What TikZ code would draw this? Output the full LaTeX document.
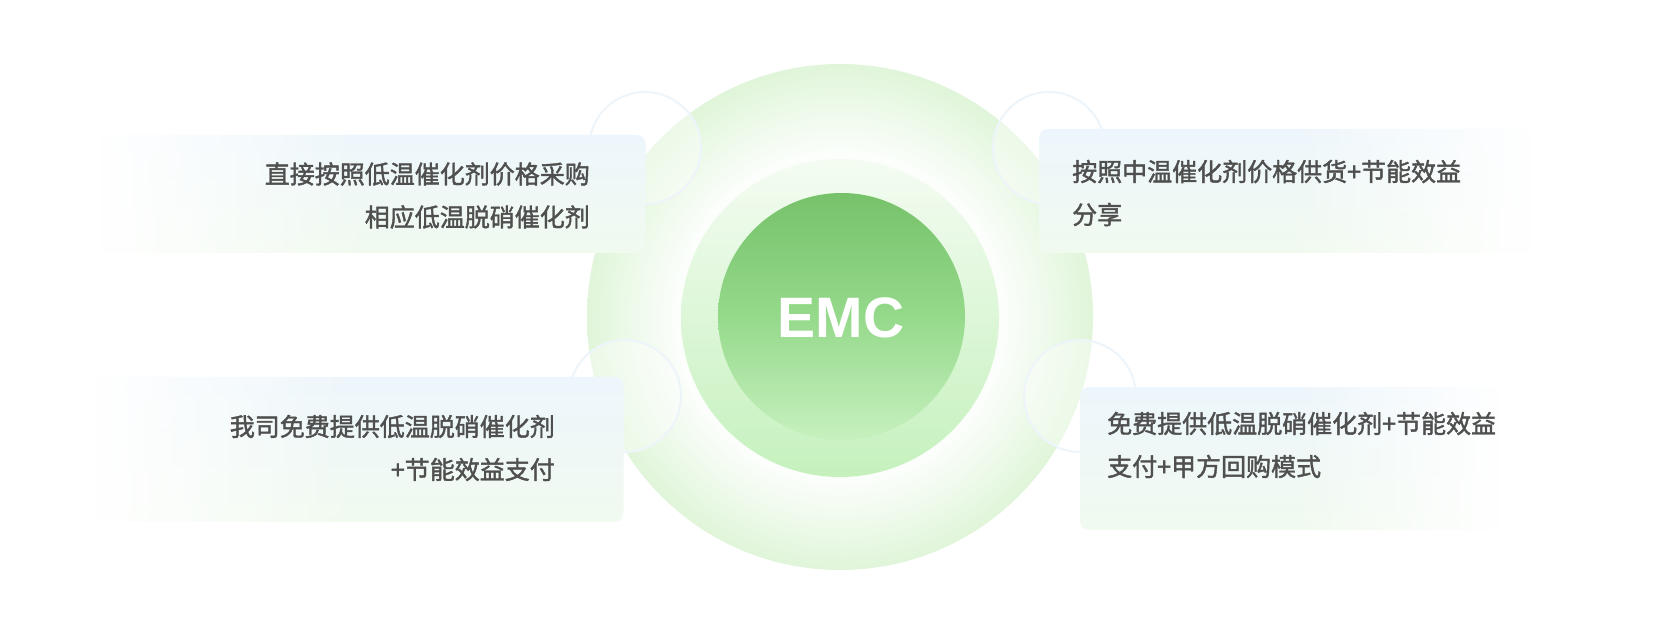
\documentclass[tikz,border=0pt]{standalone}
\usepackage{fontspec}
\setmainfont{Liberation Sans}
\newfontfamily\cjk[FakeBold=1.6]{Noto Sans CJK SC}
\newfontfamily\emcfont{Liberation Sans}
\usetikzlibrary{fadings}
\definecolor{glow}{HTML}{E0F5D9}
\definecolor{glowmid}{HTML}{EEFAEB}
\definecolor{midtop}{HTML}{F4FCF2}
\definecolor{midbot}{HTML}{C5F1BD}
\definecolor{intop}{HTML}{76C26A}
\definecolor{inmid}{HTML}{95D98B}
\definecolor{inbot}{HTML}{C7F1BF}
\definecolor{boxtop}{HTML}{EDF6FC}
\definecolor{boxbot}{HTML}{F1FAEF}
\definecolor{ringc}{HTML}{EDF5FB}
\definecolor{txt}{HTML}{4F4F4F}
\pgfdeclareradialshading{outerglow}{\pgfpointorigin}{color(0bp)=(white); color(15bp)=(white); color(20.5bp)=(glowmid); color(25bp)=(glow); color(50bp)=(glow)}
\tikzfading[name=fadeW, left color=transparent!100, right color=transparent!0, middle color=transparent!0]
\tikzfading[name=fadeE, left color=transparent!0, right color=transparent!100, middle color=transparent!0]
\tikzset{
  infobox/.style={rectangle, rounded corners=9pt, inner sep=0pt, top color=boxtop, bottom color=boxbot, shading angle=0},
  smallring/.style={circle, minimum size=112pt, inner sep=0pt, draw=ringc, line width=2pt, fill=white, fill opacity=0.4},
  infotext/.style={inner sep=0pt, text=txt, font=\cjk\fontsize{25}{43}\selectfont}
}
\begin{document}
\begin{tikzpicture}[x=1pt,y=-1pt]
\useasboundingbox (0,0) rectangle (1680,634);
\fill[white] (0,0) rectangle (1680,634);
% central circles
\node[circle, minimum size=506pt, inner sep=0pt, shade, shading=outerglow] (outer) at (840,317) {};
\node[circle, minimum size=318pt, inner sep=0pt, top color=midtop, bottom color=midbot] (middle) at (840,318) {};
\node[circle, minimum size=247pt, inner sep=0pt, top color=intop, bottom color=inbot, middle color=inmid] (inner) at (841.5,316.5) {};
\node[inner sep=0pt, text=white, font=\emcfont\bfseries\fontsize{57}{57}\selectfont] (emc) at (841,317.5) {EMC};
% small decorative rings
\node[smallring] (s1) at (645,148) {};
\node[smallring] (s2) at (1049,148) {};
\node[smallring] (s3) at (625,396) {};
\node[smallring] (s4) at (1080,396) {};
% boxes
\node[infobox, minimum width=546pt, minimum height=118pt, path fading=fadeW] (b1) at (373,194) {};
\node[infobox, minimum width=492pt, minimum height=124pt, path fading=fadeE] (b2) at (1285,191) {};
\node[infobox, minimum width=528pt, minimum height=145pt, path fading=fadeW] (b3) at (360,449.5) {};
\node[infobox, minimum width=420pt, minimum height=143pt, path fading=fadeE] (b4) at (1290,458.5) {};
% texts
\node[infotext, anchor=east, align=right] (t1) at (590,195.5) {直接按照低温催化剂价格采购\\相应低温脱硝催化剂};
\node[infotext, anchor=west, align=left] (t2) at (1072,193) {按照中温催化剂价格供货+节能效益\\分享};
\node[infotext, anchor=east, align=right] (t3) at (555,448) {我司免费提供低温脱硝催化剂\\+节能效益支付};
\node[infotext, anchor=west, align=left] (t4) at (1107,445) {免费提供低温脱硝催化剂+节能效益\\支付+甲方回购模式};
\end{tikzpicture}
\end{document}
